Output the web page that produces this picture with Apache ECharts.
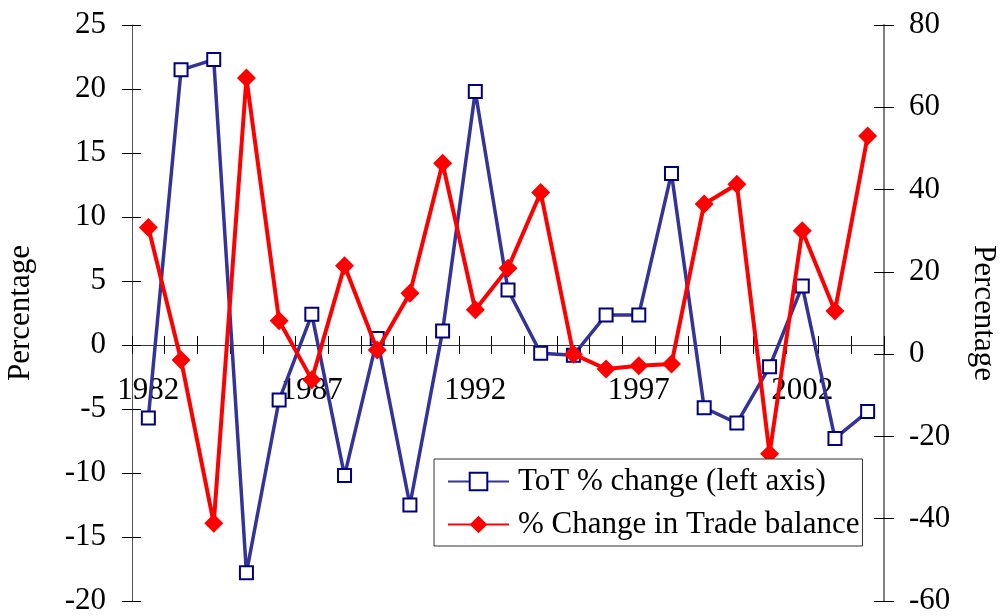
<!DOCTYPE html>
<html>
<head>
<meta charset="utf-8">
<script src="https://cdn.jsdelivr.net/npm/echarts@6/dist/echarts.min.js"></script>
<style>
  html, body { margin: 0; padding: 0; background: #fff; }
  #chart { width: 1002px; height: 616px; }
</style>
</head>
<body>
<div id="chart"></div>
<script>
// Years on the category axis
const years = ['1982','1983','1984','1985','1986','1987','1988','1989','1990','1991','1992',
               '1993','1994','1995','1996','1997','1998','1999','2000','2001','2002','2003','2004'];
// Terms of trade, % change (left axis)
const totChange = [-5.7, 21.5, 22.3, -17.8, -4.3, 2.4, -10.2, 0.5, -12.5, 1.1, 19.8,
                   4.3, -0.65, -0.8, 2.35, 2.35, 13.4, -4.9, -6.1, -1.7, 4.6, -7.3, -5.2];
// % change in trade balance (right axis)
const tradeChange = [30.8, -1.4, -41.1, 67.1, 8.1, -6.2, 21.5, 1.0, 14.8, 46.4, 10.8,
                     20.9, 39.3, 0.0, -3.6, -2.8, -2.4, 36.5, 41.3, -24.2, 30.0, 10.5, 53.0];
// Axis ranges
const leftAxis = { min: -20, max: 25, step: 5 };
const rightAxis = { min: -60, max: 80, step: 20 };
const seriesNames = ['ToT % change (left axis)', '% Change in Trade balance'];

const FONT = "'Liberation Serif', 'Times New Roman', serif";
const FS = 31;
const W = 1002, H = 616;
const GRID = { left: 132, right: 118, top: 25, bottom: 15 };

// The year axis sits on the left axis' zero line: shift it up from the grid bottom.
const plotH = H - GRID.top - GRID.bottom;
const zeroFromBottom = plotH * (0 - leftAxis.min) / (leftAxis.max - leftAxis.min);
const xAxisOffset = -zeroFromBottom;

const chart = echarts.init(document.getElementById('chart'), null, { renderer: 'canvas' });
const tickStyle = { color: '#000', width: 1 };

chart.setOption({
  backgroundColor: '#fff',
  animation: false,
  textStyle: { fontFamily: FONT, color: '#000' },
  grid: Object.assign({ containLabel: false, outerBoundsMode: 'none' }, GRID),
  legend: {
    orient: 'vertical',
    left: 434,
    top: 459,
    padding: [7, 3, 6, 13],
    itemGap: 12,
    itemWidth: 61,
    itemHeight: 22,
    borderColor: '#333',
    borderWidth: 1,
    backgroundColor: '#fff',
    textStyle: { fontFamily: FONT, fontSize: FS, color: '#000', lineHeight: 31, padding: [0, 0, 0, 4] },
    data: seriesNames
  },
  xAxis: [
    {
      type: 'category',
      data: years,
      boundaryGap: true,
      position: 'bottom',
      offset: xAxisOffset,
      axisLine: { show: true, onZero: false, lineStyle: { color: '#333', width: 1 } },
      axisTick: { show: true, inside: false, length: 9, interval: 0, lineStyle: tickStyle },
      axisLabel: {
        interval: (i) => i % 5 === 0,
        margin: 30,
        fontFamily: FONT, fontSize: FS, color: '#000'
      },
      splitLine: { show: false }
    },
    {
      // upper half of the cross ticks on the year axis
      type: 'category',
      data: years,
      boundaryGap: true,
      position: 'bottom',
      offset: xAxisOffset,
      axisLine: { show: false, onZero: false },
      axisTick: { show: true, inside: true, length: 9, interval: 0, lineStyle: tickStyle },
      axisLabel: { show: false },
      splitLine: { show: false }
    }
  ],
  yAxis: [
    {
      type: 'value',
      position: 'left',
      min: leftAxis.min, max: leftAxis.max, interval: leftAxis.step,
      name: 'Percentage',
      nameLocation: 'middle',
      nameRotate: 90,
      nameGap: 96,
      nameTextStyle: { fontFamily: FONT, fontSize: FS, color: '#000' },
      axisLine: { show: true, onZero: false, lineStyle: { color: '#555', width: 1 } },
      axisTick: { show: true, inside: false, length: 10, lineStyle: tickStyle },
      axisLabel: { margin: 26, fontFamily: FONT, fontSize: FS, color: '#000' },
      splitLine: { show: false }
    },
    {
      type: 'value',
      position: 'right',
      min: rightAxis.min, max: rightAxis.max, interval: rightAxis.step,
      name: 'Percentage',
      nameLocation: 'middle',
      nameRotate: -90,
      nameGap: 84,
      nameTextStyle: { fontFamily: FONT, fontSize: FS, color: '#000' },
      axisLine: { show: true, onZero: false, lineStyle: { color: '#808080', width: 2 } },
      axisTick: { show: true, inside: false, length: 10, lineStyle: tickStyle },
      axisLabel: { margin: 25, fontFamily: FONT, fontSize: FS, color: '#000' },
      splitLine: { show: false }
    },
    {
      // inner half of the left cross ticks
      type: 'value',
      position: 'left',
      min: leftAxis.min, max: leftAxis.max, interval: leftAxis.step,
      axisLine: { show: false, onZero: false },
      axisTick: { show: true, inside: true, length: 9, lineStyle: tickStyle },
      axisLabel: { show: false },
      splitLine: { show: false }
    },
    {
      // inner half of the right cross ticks
      type: 'value',
      position: 'right',
      min: rightAxis.min, max: rightAxis.max, interval: rightAxis.step,
      axisLine: { show: false, onZero: false },
      axisTick: { show: true, inside: true, length: 10, lineStyle: tickStyle },
      axisLabel: { show: false },
      splitLine: { show: false }
    }
  ],
  series: [
    {
      name: seriesNames[0],
      type: 'line',
      xAxisIndex: 0,
      yAxisIndex: 0,
      data: totChange,
      symbol: 'rect',
      symbolSize: 13,
      showAllSymbol: true,
      lineStyle: { color: '#333399', width: 3.5 },
      itemStyle: { color: '#fff', borderColor: '#000080', borderWidth: 2 },
      emphasis: { disabled: true },
      z: 2
    },
    {
      name: seriesNames[1],
      type: 'line',
      xAxisIndex: 0,
      yAxisIndex: 1,
      data: tradeChange,
      symbol: 'diamond',
      symbolSize: 19,
      showAllSymbol: true,
      lineStyle: { color: '#ff0000', width: 4 },
      itemStyle: { color: '#ff0000', borderColor: '#ff0000', borderWidth: 0 },
      emphasis: { disabled: true },
      z: 3
    }
  ]
});
</script>
</body>
</html>
